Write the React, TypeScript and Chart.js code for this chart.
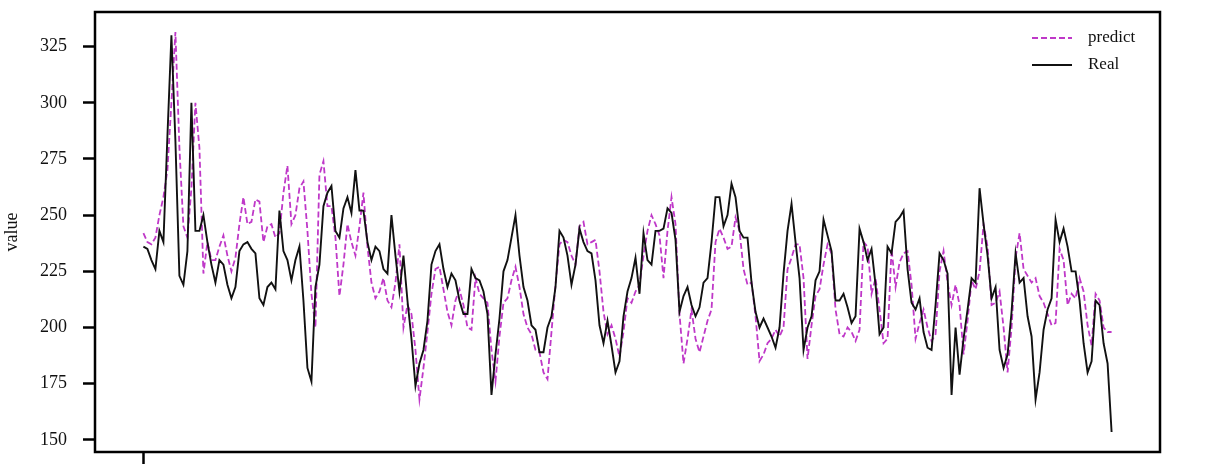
import React, { useEffect, useRef } from "react";
import { Chart, registerables } from "chart.js";

Chart.register(...registerables);

// Real series (value per time step)
const realValues: number[] = [
  236, 235, 230, 226, 243, 238, 285, 330, 283, 223, 219, 234, 300, 243, 243, 250, 238, 228, 220, 230,
  228, 219, 213, 218, 234, 237, 238, 235, 233, 213, 210, 218, 220, 217, 252, 234, 230, 221, 230, 236,
  212, 182, 176, 218, 228, 254, 260, 263, 243, 240, 253, 258, 251, 270, 252, 252, 238, 230, 236, 234,
  226, 224, 250, 232, 216, 232, 212, 195, 174, 184, 190, 203, 228, 234, 237, 226, 218, 224, 221, 212,
  206, 206, 226, 222, 221, 216, 206, 170, 188, 204, 225, 230, 240, 250, 232, 218, 212, 201, 199, 189,
  189, 200, 205, 218, 243, 240, 232, 219, 228, 244, 238, 234, 233, 221, 201, 193, 203, 192, 180, 185,
  205, 216, 222, 231, 215, 242, 230, 228, 243, 243, 244, 253, 251, 239, 207, 214, 218, 210, 205, 209,
  220, 222, 238, 258, 258, 245, 250, 264, 258, 243, 240, 240, 220, 207, 200, 204, 200, 196, 191, 200,
  224, 243, 255, 238, 222, 190, 200, 205, 221, 225, 248, 241, 234, 212, 212, 215, 209, 202, 205, 244,
  238, 230, 235, 219, 197, 200, 236, 233, 247, 249, 252, 226, 211, 208, 213, 198, 191, 190, 210, 233,
  230, 224, 170, 200, 179, 195, 208, 222, 220, 262, 246, 232, 213, 218, 190, 182, 188, 207, 233, 220,
  222, 205, 196, 168, 180, 199, 208, 213, 248, 238, 244, 236, 225, 225, 212, 193, 180, 185, 212, 210,
  193, 184, 153.5,
];

// Predicted series
const predictValues: number[] = [
  242, 238, 237, 240, 250, 258, 270, 300, 331.5, 280, 245, 240, 262, 300, 280, 224, 238, 230, 230, 236,
  241, 232, 225, 231, 246, 258, 246, 247, 257, 256, 238, 245, 246, 240, 242, 260, 272, 246, 250, 262,
  265, 243, 215, 200, 268, 274, 254, 254, 240, 214, 228, 246, 238, 232, 245, 260, 236, 220, 213, 216,
  222, 212, 209, 220, 237, 200, 210, 206, 190, 168, 182, 198, 215, 226, 227, 217, 207, 201, 212, 217,
  210, 200, 199, 222, 215, 213, 211, 190, 176, 196, 211, 213, 221, 227, 218, 206, 200, 197, 190, 189,
  180, 177, 198, 219, 237, 239, 238, 232, 228, 245, 247, 237, 238, 239, 225, 207, 197, 201, 195, 187,
  198, 213, 211, 216, 219, 232, 243, 250, 246, 241, 222, 243, 258, 246, 206, 184, 195, 208, 195, 189,
  196, 203, 208, 238, 244, 240, 235, 236, 249, 243, 226, 219, 220, 205, 185, 188, 193, 195, 199, 196,
  200, 226, 231, 237, 237, 222, 186, 201, 214, 217, 228, 237, 233, 208, 197, 196, 200, 198, 194, 199,
  238, 236, 215, 222, 208, 193, 195, 235, 218, 229, 233, 234, 219, 195, 202, 208, 200, 194, 197, 225,
  234, 220, 210, 219, 210, 188, 203, 221, 217, 225, 246, 236, 210, 211, 216, 200, 180, 200, 231, 242,
  226, 223, 220, 222, 214, 211, 206, 201, 202, 235, 230, 210, 215, 213, 222, 216, 201, 192, 215, 212,
  200, 198, 198,
];

const yTickValues: number[] = [150, 175, 200, 225, 250, 275, 300, 325];
const seriesNames: string[] = ["predict", "Real"];

const FONT = "'Liberation Serif', 'Times New Roman', serif";
const PREDICT_COLOR = "#bf38c8";
const REAL_COLOR = "#111111";

export default function App() {
  const canvasRef = useRef<HTMLCanvasElement | null>(null);

  useEffect(() => {
    const canvas = canvasRef.current;
    if (!canvas) return;
    const n = realValues.length;
    const last = n - 1;
    const allVals = realValues.concat(predictValues);
    const vMin = Math.min(...allVals);
    const vMax = Math.max(...allVals);
    const vPad = (vMax - vMin) * 0.05;

    const framePlugin = {
      id: "frameAndLegend",
      afterDraw(chart: any) {
        const { ctx, chartArea } = chart;
        ctx.save();
        ctx.strokeStyle = "#000";
        ctx.lineWidth = 2.5;
        ctx.strokeRect(chartArea.left, chartArea.top, chartArea.right - chartArea.left, chartArea.bottom - chartArea.top);
        // legend
        const lx0 = chartArea.right - 128;
        const lx1 = lx0 + 40;
        const tx = lx1 + 16;
        const rows = [
          { name: seriesNames[0], color: PREDICT_COLOR, dash: [6, 3], y: chartArea.top + 26 },
          { name: seriesNames[1], color: REAL_COLOR, dash: [], y: chartArea.top + 53 },
        ];
        ctx.font = "17px " + FONT;
        ctx.textBaseline = "middle";
        ctx.textAlign = "left";
        rows.forEach((r) => {
          ctx.beginPath();
          ctx.setLineDash(r.dash);
          ctx.strokeStyle = r.color;
          ctx.lineWidth = 1.8;
          ctx.moveTo(lx0, r.y);
          ctx.lineTo(lx1, r.y);
          ctx.stroke();
          ctx.setLineDash([]);
          ctx.fillStyle = "#111";
          ctx.fillText(r.name, tx, r.y);
        });
        ctx.restore();
      },
    };

    const chart = new Chart(canvas, {
      type: "line",
      data: {
        datasets: [
          {
            label: seriesNames[0],
            data: predictValues.map((v, i) => ({ x: i, y: v })),
            borderColor: PREDICT_COLOR,
            borderWidth: 1.8,
            borderDash: [6, 3],
            pointRadius: 0,
            tension: 0,
            fill: false,
            order: 1,
          },
          {
            label: seriesNames[1],
            data: realValues.map((v, i) => ({ x: i, y: v })),
            borderColor: REAL_COLOR,
            borderWidth: 1.9,
            pointRadius: 0,
            tension: 0,
            fill: false,
            order: 0,
          },
        ],
      },
      options: {
        animation: false,
        responsive: false,
        layout: { padding: { top: 12, right: 48, left: 0, bottom: 0 } },
        plugins: { legend: { display: false }, tooltip: { enabled: false } },
        scales: {
          x: {
            type: "linear",
            min: -0.05 * last,
            max: last * 1.05,
            border: { display: false },
            grid: { drawOnChartArea: false, drawTicks: true, tickLength: 12, tickWidth: 2.5, tickColor: "#000" },
            ticks: { callback: () => "", padding: 0 },
            afterBuildTicks: (scale: any) => {
              scale.ticks = [{ value: 0 }];
            },
            afterFit: (scale: any) => {
              scale.height = 20;
              scale.paddingLeft = 0;
              scale.paddingRight = 0;
              scale.paddingTop = 0;
              scale.paddingBottom = 0;
            },
          },
          y: {
            type: "linear",
            min: vMin - vPad,
            max: vMax + vPad,
            border: { display: false },
            grid: { drawOnChartArea: false, drawTicks: true, tickLength: 12, tickWidth: 2.5, tickColor: "#000" },
            ticks: { color: "#111", font: { family: FONT, size: 18 }, padding: 16 },
            afterBuildTicks: (scale: any) => {
              scale.ticks = yTickValues.map((v) => ({ value: v }));
            },
            afterFit: (scale: any) => {
              scale.width = 95;
              scale.paddingTop = 0;
              scale.paddingBottom = 0;
              scale.paddingLeft = 0;
              scale.paddingRight = 0;
            },
            title: {
              display: true,
              text: "value",
              color: "#111",
              font: { family: FONT, size: 18 },
              padding: { top: 1, bottom: 0 },
            },
          },
        },
      },
      plugins: [framePlugin],
    });
    return () => chart.destroy();
  }, []);

  return (
    <div style={{ position: "absolute", left: 0, top: 0, width: 1208, height: 472, background: "#fff" }}>
      <canvas ref={canvasRef} width={1208} height={472} />
    </div>
  );
}
